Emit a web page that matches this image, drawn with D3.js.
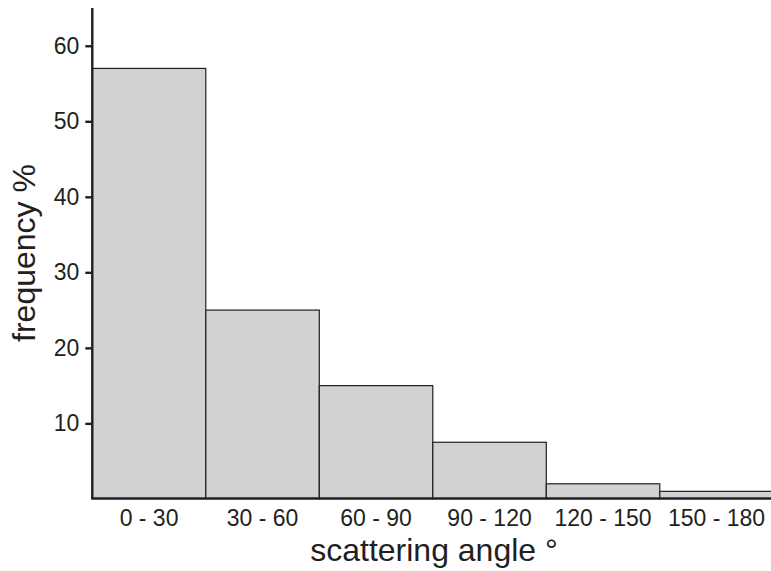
<!DOCTYPE html>
<html>
<head>
<meta charset="utf-8">
<script src="https://cdn.jsdelivr.net/npm/d3@7"></script>
<style>
  body { margin: 0; background: #fff; }
  text { font-family: "Liberation Sans", Arial, sans-serif; fill: #231f20; }
</style>
</head>
<body>
<svg width="771" height="571"></svg>
<script>
// data
var categories = ['0 - 30', '30 - 60', '60 - 90', '90 - 120', '120 - 150', '150 - 180'];
var freq = [57, 25, 15, 7.5, 2, 1];
var yTicks = [10, 20, 30, 40, 50, 60];

var svg = d3.select('svg');
var mLeft = 92.3, mBottom = 498.9, mTop = 8;

var x = d3.scaleBand().domain(categories).range([mLeft, mLeft + 6 * 113.5]).padding(0);
var y = d3.scaleLinear().domain([0, 65]).range([mBottom, mTop]);

// bars
svg.selectAll('rect.bar').data(freq).enter().append('rect')
  .attr('class', 'bar')
  .attr('x', function(d, i){ return x(categories[i]); })
  .attr('y', function(d){ return y(d); })
  .attr('width', x.bandwidth())
  .attr('height', function(d){ return y(0) - y(d); })
  .attr('fill', '#d1d2d4')
  .attr('stroke', '#231f20')
  .attr('stroke-width', 1.2);

// y axis
var ya = svg.append('g').attr('transform', 'translate(' + mLeft + ',0)')
  .call(d3.axisLeft(y).tickValues(yTicks).tickSize(7).tickPadding(6).tickFormat(d3.format('d')));
ya.select('.domain').attr('d', 'M0,' + mTop + 'V' + (mBottom - 0.5)).attr('stroke', '#231f20').attr('stroke-width', 2.4);
ya.selectAll('.tick line').attr('stroke', '#231f20').attr('stroke-width', 2.4);
ya.selectAll('.tick text').attr('font-size', 23).attr('font-family', '"Liberation Sans", Arial, sans-serif').attr('fill', '#231f20');

// x axis
var xa = svg.append('g').attr('transform', 'translate(0,' + (mBottom - 0.5) + ')')
  .call(d3.axisBottom(x).tickSize(0).tickPadding(11));
xa.select('.domain').attr('d', 'M' + (mLeft - 1.2) + ',0H771').attr('stroke', '#231f20').attr('stroke-width', 2.4);
xa.selectAll('.tick text').attr('font-size', 23).attr('font-family', '"Liberation Sans", Arial, sans-serif').attr('fill', '#231f20');

// titles
svg.append('text').attr('x', 434).attr('y', 561).attr('text-anchor', 'middle')
  .attr('font-size', 32).text('scattering angle °');
svg.append('text').attr('transform', 'translate(35,253) rotate(-90)').attr('text-anchor', 'middle')
  .attr('font-size', 32).text('frequency %');
</script>
</body>
</html>
